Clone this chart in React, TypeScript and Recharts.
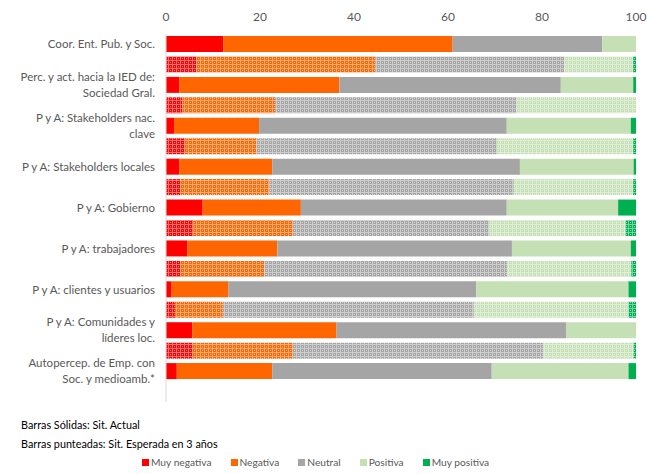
import React from "react";
import { BarChart, Bar, XAxis, YAxis, Cell } from "recharts";

const rowLabels = [
  "Coor. Ent. Pub. y Soc.", "",
  "Perc. y act. hacia la IED de:\nSociedad Gral.", "",
  "P y A: Stakeholders nac.\nclave", "",
  "P y A: Stakeholders locales", "",
  "P y A: Gobierno", "",
  "P y A: trabajadores", "",
  "P y A: clientes y usuarios", "",
  "P y A: Comunidades y\nlíderes loc.", "",
  "Autopercep. de Emp. con\nSoc. y medioamb.*", "",
];
const rowKind = [
  "actual", "esperada", "actual", "esperada", "actual", "esperada",
  "actual", "esperada", "actual", "esperada", "actual", "esperada",
  "actual", "esperada", "actual", "esperada", "actual", "esperada",
];

const muyNegativa = [12.2, 6.5, 2.8, 3.5, 1.7, 4.0, 2.8, 3.0, 7.8, 5.8, 4.5, 3.0, 1.2, 1.9, 5.6, 5.7, 2.3, null];
const negativa = [48.8, 38.0, 34.1, 19.7, 18.1, 15.3, 19.8, 19.0, 20.9, 21.2, 19.2, 17.9, 12.1, 10.2, 30.7, 21.3, 20.3, null];
const neutral = [31.8, 40.2, 47.1, 51.4, 52.7, 51.1, 52.7, 52.0, 43.8, 41.7, 49.9, 51.7, 52.7, 53.4, 48.8, 53.3, 46.7, null];
const positiva = [7.2, 14.7, 15.4, 25.4, 26.4, 29.0, 24.2, 25.4, 23.7, 29.1, 25.3, 26.4, 32.4, 32.9, 14.9, 19.2, 29.1, null];
const muyPositiva = [0, 0.6, 0.6, 0, 1.1, 0.6, 0.5, 0.6, 3.8, 2.2, 1.1, 1.0, 1.6, 1.6, 0, 0.5, 1.6, null];

const xTicks = [0, 20, 40, 60, 80, 100];

const seriesNames = ["Muy negativa", "Negativa", "Neutral", "Positiva", "Muy positiva"];
const seriesKeys = ["muyNegativa", "negativa", "neutral", "positiva", "muyPositiva"];
const seriesColors = ["#FF0000", "#FF6600", "#A5A5A5", "#C5E0B4", "#00B050"];
const seriesValues = [muyNegativa, negativa, neutral, positiva, muyPositiva];

const noteLines = ["Barras Sólidas: Sit. Actual", "Barras punteadas: Sit. Esperada en 3 años"];

const data = rowLabels.map((label, i) => {
  const row: any = { key: "r" + i, label, kind: rowKind[i] };
  seriesKeys.forEach((k, s) => {
    row[k] = seriesValues[s][i];
  });
  return row;
});

const FONT = "Lato, 'Open Sans', sans-serif";
const TEXT_GRAY = "#595959";

const YTick = (props: any) => {
  const { x, y, index } = props;
  const label = rowLabels[index] || "";
  if (!label) return null;
  const lines = label.split("\n");
  const lh = 16;
  return (
    <text x={x} y={y} textAnchor="end" fill={TEXT_GRAY} fontSize={11.5} fontFamily={FONT}>
      {lines.map((ln: string, i: number) => (
        <tspan key={i} x={x} y={y + (i - (lines.length - 1) / 2) * lh + 4}>
          {ln}
        </tspan>
      ))}
    </text>
  );
};

export default function App() {
  return (
    <div
      style={{
        position: "absolute",
        left: 0,
        top: 0,
        width: 647,
        height: 474,
        background: "#fff",
        fontFamily: FONT,
      }}
    >
      <BarChart
        width={647}
        height={474}
        data={data}
        layout="vertical"
        margin={{ top: 14, right: 11, bottom: 72, left: 0 }}
      >
        <defs>
          {seriesColors.map((c, i) => (
            <pattern key={i} id={"pat-" + i} width={4} height={4} patternUnits="userSpaceOnUse">
              <rect x={0} y={0} width={4} height={4} fill={c} />
              <rect x={0} y={0} width={4} height={1} fill="#fff" fillOpacity={0.45} />
              <rect x={0} y={1} width={1} height={3} fill="#fff" fillOpacity={0.45} />
              <rect x={2} y={2} width={1} height={1} fill="#fff" fillOpacity={0.6} />
            </pattern>
          ))}
        </defs>
        <XAxis
          type="number"
          orientation="top"
          domain={[0, 100]}
          ticks={xTicks}
          height={20}
          axisLine={false}
          tickLine={false}
          tickSize={6}
          tickMargin={7}
          interval={0}
          tick={{ fill: TEXT_GRAY, fontSize: 12, fontFamily: FONT }}
        />
        <YAxis
          type="category"
          dataKey="key"
          width={166}
          axisLine={{ stroke: "#D9D9D9" }}
          tickLine={false}
          tickSize={6}
          tickMargin={5}
          interval={0}
          tick={<YTick />}
        />
        {seriesKeys.map((k, s) => (
          <Bar
            key={k}
            dataKey={k}
            name={seriesNames[s]}
            stackId="a"
            fill={seriesColors[s]}
            barSize={16}
            isAnimationActive={false}
          >
            {data.map((d, i) => (
              <Cell
                key={i}
                fill={d.kind === "esperada" ? "url(#pat-" + s + ")" : seriesColors[s]}
              />
            ))}
          </Bar>
        ))}
      </BarChart>
      <div
        style={{
          position: "absolute",
          left: 21,
          top: 415,
          fontSize: 10.8,
          lineHeight: "19px",
          color: "#000",
        }}
      >
        {noteLines.map((t, i) => (
          <div key={i}>{t}</div>
        ))}
      </div>
      <div
        style={{
          position: "absolute",
          left: 142,
          top: 456,
          display: "flex",
          alignItems: "center",
          fontSize: 10.2,
          color: TEXT_GRAY,
          whiteSpace: "nowrap",
        }}
      >
        {seriesNames.map((n, i) => (
          <div key={i} style={{ display: "flex", alignItems: "center", marginRight: 19 }}>
            <span
              style={{
                display: "inline-block",
                width: 7,
                height: 7,
                background: seriesColors[i],
                marginRight: 2,
              }}
            />
            <span>{n}</span>
          </div>
        ))}
      </div>
    </div>
  );
}
